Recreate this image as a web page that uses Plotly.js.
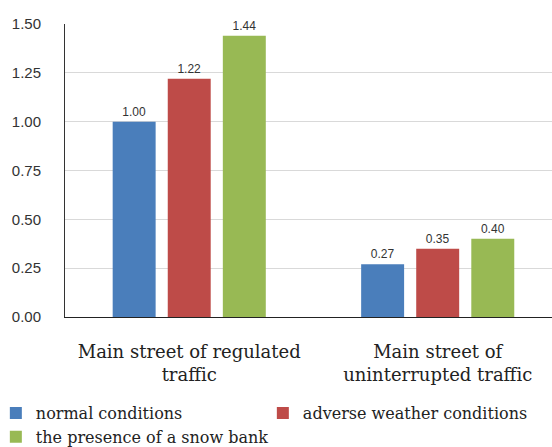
<!DOCTYPE html>
<html><head><meta charset="utf-8">
<script src="https://cdn.plot.ly/plotly-3.0.1.min.js"></script>
<style>body{margin:0;background:#fff}#c{width:552px;height:447px}</style>
</head><body><div id="c"></div>
<script>
var categories = ["Main street of regulated<br>traffic", "Main street of<br>uninterrupted traffic"];
var seriesNames = ["normal conditions", "adverse weather conditions", "the presence of a snow bank"];
var normalValues = [1.00, 0.27];
var adverseValues = [1.22, 0.35];
var snowBankValues = [1.44, 0.40];
var yTickValues = [0, 0.25, 0.5, 0.75, 1.0, 1.25, 1.5];
var yTickLabels = ["0.00", "0.25", "0.50", "0.75", "1.00", "1.25", "1.50"];
var colors = ["#4a7ebb", "#be4b48", "#98b954"];

var all = [normalValues, adverseValues, snowBankValues];
var traces = all.map(function(v, i){
  return {
    type: "bar", x: categories, y: v, name: seriesNames[i],
    marker: {color: colors[i]},
    text: v.map(function(n){return n.toFixed(2);}),
    textposition: "outside", cliponaxis: false,
    textfont: {family: "Liberation Sans Narrow, Liberation Sans, sans-serif", size: 12, color: "#333"}
  };
});
var layout = {
  width: 552, height: 447,
  margin: {l: 65, r: 0, t: 24, b: 130, autoexpand: false},
  paper_bgcolor: "#fff", plot_bgcolor: "#fff",
  barmode: "group", bargap: 0.335, bargroupgap: 0.22,
  showlegend: true,
  xaxis: {range: [-0.5, 1.46], showline: true, linecolor: "#222", linewidth: 1.3, ticks: "", ticklabelstandoff: 18,
    tickangle: 0, automargin: false,
    tickfont: {family: "DejaVu Serif, serif", size: 18, color: "#222"}, fixedrange: true},
  yaxis: {range: [0, 1.5], tickvals: yTickValues, ticktext: yTickLabels, showline: true, linecolor: "#333", linewidth: 1,
    gridcolor: "#d9d9d9", gridwidth: 1, zeroline: false, ticks: "", ticklabelstandoff: 20, automargin: false,
    tickfont: {family: "Liberation Sans, sans-serif", size: 15, color: "#333"}},
  legend: {orientation: "h", xref: "paper", yref: "paper", x: -0.142, y: -0.27, xanchor: "left", yanchor: "top",
    entrywidth: 222, entrywidthmode: "pixels", traceorder: "normal",
    font: {family: "DejaVu Serif, serif", size: 16, color: "#222"}, itemwidth: 30, tracegroupgap: 0}
};
Plotly.newPlot("c", traces, layout, {displayModeBar: false, staticPlot: true});
</script></body></html>
